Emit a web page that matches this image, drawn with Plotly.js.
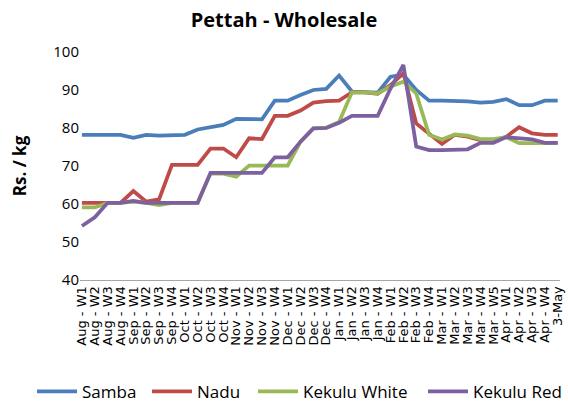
<!DOCTYPE html>
<html>
<head>
<meta charset="utf-8">
<script src="https://cdn.plot.ly/plotly-3.0.1.min.js"></script>
<style>html,body{margin:0;padding:0;background:#fff;}#chart{width:568px;height:406px;}</style>
</head>
<body>
<div id="chart"></div>
<script>
var weeks = ["Aug - W1","Aug - W2","Aug - W3","Aug - W4",
  "Sep - W1","Sep - W2","Sep - W3","Sep - W4",
  "Oct - W1","Oct - W2","Oct - W3","Oct - W4",
  "Nov - W1","Nov - W2","Nov - W3","Nov - W4",
  "Dec - W1","Dec - W2","Dec - W3","Dec - W4",
  "Jan - W1","Jan - W2","Jan - W3","Jan - W4",
  "Feb - W1","Feb - W2","Feb - W3","Feb - W4",
  "Mar - W1","Mar - W2","Mar - W3","Mar - W4","Mar - W5",
  "Apr - W1","Apr - W2","Apr - W3","Apr - W4","3-May"];

var samba = [78.2,78.2,78.2,78.2,77.4,78.2,78.0,78.2,78.2,79.6,80.3,80.8,82.4,82.3,82.3,87.2,87.2,88.7,90.0,90.3,93.8,89.6,89.4,89.3,93.5,94.0,90.0,87.2,87.2,87.2,87.0,86.7,86.9,87.6,86.0,86.0,87.2,87.2];
var nadu = [60.3,60.3,60.3,60.3,63.4,60.6,61.2,70.3,70.3,70.3,74.6,74.6,72.3,77.3,77.1,83.2,83.2,84.6,86.7,87.1,87.2,89.4,89.4,89.0,91.3,94.4,81.2,78.4,75.8,78.2,77.7,76.8,76.5,77.7,80.2,78.6,78.2,78.2];
var kekuluWhite = [59.1,59.1,60.3,60.3,60.6,60.3,59.7,60.3,60.3,60.3,68.0,68.0,67.2,70.1,70.1,70.1,70.1,76.4,79.9,80.1,81.6,89.4,89.4,89.1,90.9,92.2,89.1,78.2,77.0,78.3,78.0,77.1,77.1,77.6,76.0,76.0,76.1,76.1];
var kekuluRed = [54.2,56.5,60.3,60.3,60.8,60.3,60.3,60.3,60.3,60.3,68.2,68.2,68.2,68.2,68.2,72.3,72.3,76.4,79.9,80.0,81.4,83.2,83.2,83.2,90.4,96.6,75.1,74.2,74.2,74.2,74.4,76.1,76.1,77.6,77.3,77.0,76.1,76.1];
var yTicks = [40,50,60,70,80,90,100];

var names = ["Samba","Nadu","Kekulu White","Kekulu Red"];
var series = [samba, nadu, kekuluWhite, kekuluRed];
var colors = ["#4A7EBB","#BE4B48","#98B954","#7D60A0"];
var legendIds = ["legend","legend2","legend3","legend4"];
var legendX = [32, 147, 253, 423];

var traces = series.map(function(s, i){
  return {x: weeks, y: s, type: "scatter", mode: "lines", name: names[i],
    legend: legendIds[i],
    line: {color: colors[i], width: 3.75}};
});

var layout = {
  width: 568, height: 406,
  margin: {l: 80, r: 8, t: 52, b: 126},
  paper_bgcolor: "#ffffff", plot_bgcolor: "#ffffff",
  font: {family: "'Open Sans', sans-serif", color: "#000"},
  title: {text: "<b>Pettah - Wholesale</b>", x: 0.5, xanchor: "center", y: 0.95, yanchor: "middle",
    font: {size: 20, family: "'Open Sans', sans-serif", color: "#000"}},
  showlegend: true,
  xaxis: {type: "category", categoryorder: "array", categoryarray: weeks,
    tickmode: "array", tickvals: weeks, ticktext: weeks, automargin: false,
    range: [-0.15, 37.18], tickangle: -90, showgrid: false, zeroline: false,
    showline: true, linecolor: "#A6A6A6", linewidth: 1, ticks: "",
    tickfont: {size: 13, family: "'DejaVu Sans', sans-serif", color: "#000"}},
  yaxis: {range: [40, 100], tickvals: yTicks, showgrid: false, zeroline: false, showline: false,
    ticks: "", ticklen: 0, automargin: false,
    tickfont: {size: 15, family: "'Open Sans', sans-serif", color: "#000"},
    title: {text: "<b>Rs. / kg</b>", standoff: 22, font: {size: 17, family: "'Open Sans', sans-serif", color: "#000"}}}
};
legendIds.forEach(function(id, i){
  layout[id] = {orientation: "h", xref: "container", yref: "container",
    x: legendX[i] / 568, xanchor: "left", y: 0.035, yanchor: "middle",
    font: {size: 17, family: "'Open Sans', sans-serif", color: "#000"},
    itemwidth: 40, bgcolor: "rgba(0,0,0,0)"};
});

Plotly.newPlot("chart", traces, layout, {displayModeBar: false, staticPlot: true});
</script>
</body>
</html>
